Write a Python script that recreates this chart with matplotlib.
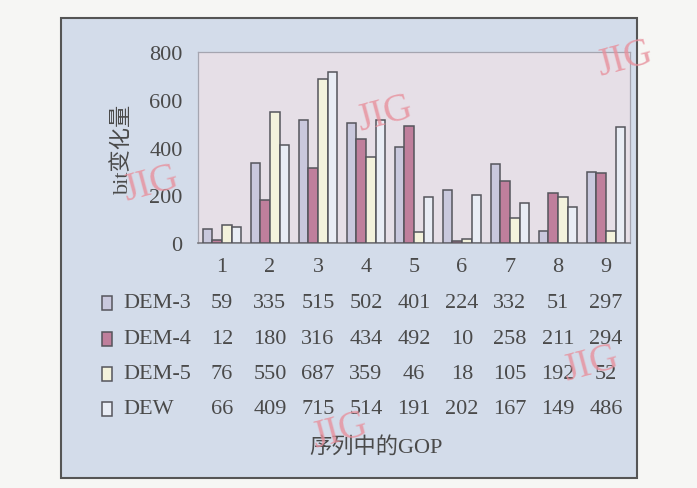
import matplotlib
matplotlib.use("Agg")
import matplotlib.pyplot as plt
import numpy as np
from matplotlib.patches import Rectangle
from matplotlib.transforms import blended_transform_factory

plt.rcParams['font.family'] = ['Liberation Serif', 'Noto Sans CJK SC']

gops = ['1', '2', '3', '4', '5', '6', '7', '8', '9']
series = ['DEM-3', 'DEM-4', 'DEM-5', 'DEW']
dem3 = [59, 335, 515, 502, 401, 224, 332, 51, 297]
dem4 = [12, 180, 316, 434, 492, 10, 258, 211, 294]
dem5 = [76, 550, 687, 359, 46, 18, 105, 192, 52]
dew = [66, 409, 715, 514, 191, 202, 167, 149, 486]
values = [dem3, dem4, dem5, dew]
colors = ['#c9c8dd', '#bf7f9c', '#f3f2dc', '#e9edf5']

W, H = 697, 489
TXT = '#4a4a4a'
FS = 16

fig = plt.figure(figsize=(W / 100, H / 100), dpi=100)
fig.patch.set_facecolor('#f6f6f4')

# blue panel with dark border
fig.patches.append(Rectangle((61 / W, 1 - 479 / H), 576 / W, 460 / H,
                             transform=fig.transFigure, facecolor='#d3dcea',
                             edgecolor='#555555', linewidth=1.5, zorder=-5))

ax = fig.add_axes([198 / W, 1 - 244 / H, 432 / W, 191 / H])
ax.set_zorder(1)
ax.set_facecolor('#e6dfe7')
x = np.arange(1, len(gops) + 1)
bw = 0.2
for i, (vals, c) in enumerate(zip(values, colors)):
    ax.bar(x + (i - 1.5) * bw, vals, bw, color=c, edgecolor='#55555c',
           linewidth=1.1, zorder=3)

ax.set_xlim(0.5, 9.5)
ax.set_ylim(0, 800)
ax.set_yticks([0, 200, 400, 600, 800])
ax.set_xticks(x)
ax.set_xticklabels(gops)
ax.tick_params(length=0, labelsize=FS, colors=TXT)
ax.tick_params(axis='y', pad=11)
ax.tick_params(axis='x', pad=10)
for s in ['top', 'left', 'right']:
    ax.spines[s].set_color('#a5a5b0')
    ax.spines[s].set_linewidth(0.9)
ax.spines['bottom'].set_color('#7a7a80')
ax.spines['bottom'].set_linewidth(1.2)
ax.set_ylabel('bit变化量', fontsize=FS, color=TXT, labelpad=12)

# data table underneath
tr = blended_transform_factory(ax.transData, fig.transFigure)
row_y = [304, 340, 375, 410]
for name, vals, c, yy in zip(series, values, colors, row_y):
    yf = 1 - yy / H
    fig.patches.append(Rectangle((102 / W, 1 - (yy + 7) / H), 10 / W, 14 / H,
                                 transform=fig.transFigure, facecolor=c,
                                 edgecolor='#55555c', linewidth=1.1))
    fig.text(123 / W, yf, name, fontsize=FS, color=TXT, va='center', ha='left')
    for xi, v in zip(x, vals):
        ax.text(xi, yf, str(v), transform=tr, fontsize=FS, color=TXT,
                ha='center', va='center', clip_on=False)

fig.text(376 / W, 1 - 447 / H, '序列中的GOP', fontsize=FS, color=TXT,
         ha='center', va='center')

# JIG watermarks
for wx, wy in [(625, 60), (385, 115), (151, 185), (591, 365), (340, 432)]:
    fig.text(wx / W, 1 - wy / H, 'JIG', fontsize=28, color='#e8909c',
             alpha=0.8, rotation=15, ha='center', va='center', zorder=10)

fig.savefig('out.png', dpi=100, facecolor=fig.get_facecolor())
